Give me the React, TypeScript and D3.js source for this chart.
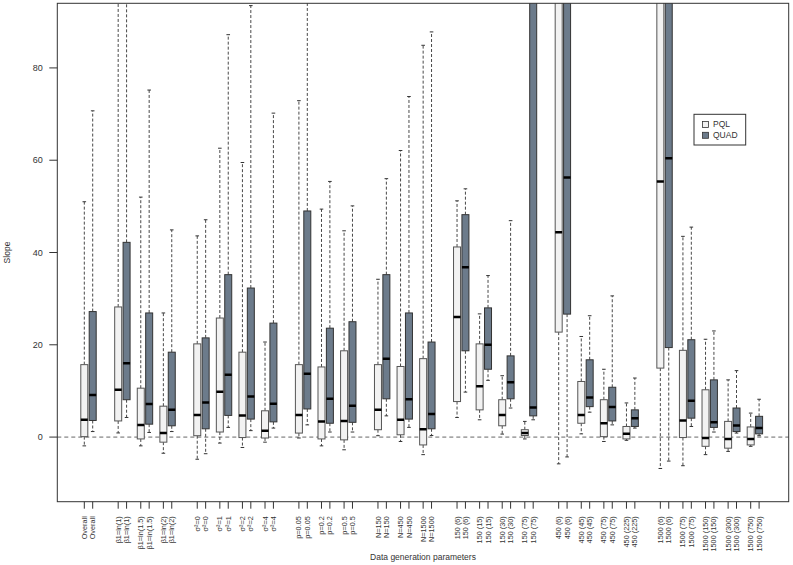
import React from 'react';
import * as d3 from 'd3';

const categories = [
  'Overall',
  'β1=ln(1)', 'β1=ln(1.5)', 'β1=ln(2)',
  'σ²=0', 'σ²=1', 'σ²=2', 'σ²=4',
  'p=0.05', 'p=0.2', 'p=0.5',
  'N=150', 'N=450', 'N=1500',
  '150 (6)', '150 (15)', '150 (30)', '150 (75)',
  '450 (6)', '450 (45)', '450 (75)', '450 (225)',
  '1500 (6)', '1500 (75)', '1500 (150)', '1500 (300)', '1500 (750)',
];
const sectionOf = [0, 1, 1, 1, 2, 2, 2, 2, 3, 3, 3, 4, 4, 4, 5, 5, 5, 5, 6, 6, 6, 6, 7, 7, 7, 7, 7];

// [lower whisker, Q1, median, Q3, upper whisker]
const pqlStats: number[][] = [
  [-1.9, 0.1, 3.75, 15.7, 51.0],
  [0.9, 3.5, 10.25, 28.2, 130],
  [-1.9, -0.4, 2.6, 10.6, 52.0],
  [-3.5, -1.1, 0.87, 6.7, 26.9],
  [-4.8, 0.3, 4.8, 20.2, 43.6],
  [-1.3, 1.1, 9.8, 25.8, 62.6],
  [-2.25, -0.1, 4.7, 18.4, 59.5],
  [-1.1, -0.2, 1.4, 5.7, 20.6],
  [-0.2, 0.87, 4.8, 15.7, 72.9],
  [-1.9, -0.4, 3.4, 15.2, 49.4],
  [-2.75, -0.6, 3.5, 18.7, 44.7],
  [0.3, 1.6, 5.9, 15.7, 34.2],
  [-0.95, 0.5, 3.75, 15.3, 62.1],
  [-3.8, -1.7, 1.7, 17.0, 84.9],
  [4.25, 7.7, 26.0, 41.2, 51.2],
  [3.75, 5.9, 11.0, 20.2, 26.7],
  [0.65, 2.45, 4.8, 8.1, 13.3],
  [-0.4, 0.35, 0.87, 1.6, 3.4],
  [-5.8, 22.75, 44.4, 140, 250],
  [0.7, 3.0, 4.8, 12.05, 21.8],
  [-0.95, 0.1, 3.0, 8.1, 14.7],
  [-0.7, -0.4, 0.7, 2.3, 7.4],
  [-6.8, 14.95, 55.4, 140, 250],
  [-6.2, -0.1, 3.6, 18.8, 43.5],
  [-3.8, -2.0, -0.2, 10.25, 21.2],
  [-3.1, -2.4, -0.4, 3.4, 12.4],
  [-2.0, -1.7, -0.4, 2.2, 5.2],
];

const quadStats: number[][] = [
  [1.2, 3.6, 9.1, 27.2, 70.7],
  [4.25, 8.1, 16.0, 42.2, 140],
  [1.0, 2.8, 7.15, 26.9, 75.2],
  [1.2, 2.45, 5.9, 18.4, 44.9],
  [-3.6, 1.8, 7.5, 21.5, 47.1],
  [2.1, 4.7, 13.5, 35.2, 87.2],
  [1.4, 3.9, 8.8, 32.3, 93.5],
  [1.95, 3.3, 7.2, 24.7, 70.2],
  [2.65, 6.1, 13.7, 49.0, 130],
  [1.1, 3.0, 8.3, 23.6, 55.4],
  [1.1, 3.2, 6.8, 25.0, 50.1],
  [4.6, 8.3, 17.0, 35.2, 56.0],
  [2.1, 3.9, 8.2, 26.9, 73.8],
  [0.35, 1.8, 5.0, 20.6, 87.8],
  [9.75, 18.7, 36.8, 48.2, 53.8],
  [12.3, 14.7, 20.0, 28.0, 35.0],
  [6.3, 8.3, 11.9, 17.6, 46.9],
  [3.75, 4.6, 6.4, 140, 250],
  [-4.3, 26.65, 56.25, 150, 260],
  [5.4, 6.6, 8.6, 16.75, 26.3],
  [2.65, 3.5, 6.5, 10.8, 30.6],
  [1.95, 2.3, 4.1, 5.9, 12.8],
  [-5.2, 19.4, 60.45, 150, 260],
  [2.3, 4.1, 7.9, 21.1, 45.5],
  [1.1, 2.1, 3.2, 12.4, 23.0],
  [0.87, 1.2, 2.5, 6.3, 14.4],
  [0.3, 0.7, 1.95, 4.5, 8.2],
];

const yTicks = [0, 20, 40, 60, 80];
const seriesNames = ['PQL', 'QUAD'];
const seriesFill = ['#f2f2f2', '#6c7b8b'];
const seriesStroke = ['#555555', '#333333'];

const W = 793;
const H = 565;
const plotL = 57.3;
const plotR = 788.7;
const plotT = 3.3;
const plotB = 501.7;
const FONT = '"Liberation Sans", Arial, Helvetica, sans-serif';

export default function App() {
  const y = d3.scaleLinear().domain([-14, 94]).range([plotB, plotT]);
  const slots = categories.map((_, i) => i * 3 + sectionOf[i] * 1.5);
  const x = d3.scaleLinear().domain([0, d3.max(slots) as number]).range([84.3, 750.7]);
  const pairOffset = 1.115;
  const boxW = 7;
  const capW = 3.6;

  const boxes: { cx: number; s: number[]; k: number; key: string }[] = [];
  categories.forEach((c, i) => {
    [pqlStats[i], quadStats[i]].forEach((s, k) => {
      boxes.push({ cx: x(slots[i] + k * pairOffset), s, k, key: `${c}-${k}` });
    });
  });

  return (
    <svg width={W} height={H} style={{ position: 'absolute', left: 0, top: 0, background: '#fff' }} fontFamily={FONT}>
      <defs>
        <clipPath id="plotclip">
          <rect x={plotL} y={plotT} width={plotR - plotL} height={plotB - plotT} />
        </clipPath>
      </defs>
      <rect x={0} y={0} width={W} height={H} fill="#fff" />
      {/* zero reference line */}
      <line x1={plotL} x2={plotR} y1={y(0)} y2={y(0)} stroke="#666" strokeWidth={1} strokeDasharray="4,3" />
      <g clipPath="url(#plotclip)">
        {boxes.map((b) => {
          const [lo, q1, med, q3, hi] = b.s;
          const x0 = b.cx - boxW / 2;
          return (
            <g key={b.key}>
              <line x1={b.cx} x2={b.cx} y1={y(q3)} y2={y(hi)} stroke="#333" strokeWidth={0.9} strokeDasharray="3,2" />
              <line x1={b.cx} x2={b.cx} y1={y(q1)} y2={y(lo)} stroke="#333" strokeWidth={0.9} strokeDasharray="3,2" />
              <line x1={b.cx - capW / 2} x2={b.cx + capW / 2} y1={y(hi)} y2={y(hi)} stroke="#333" strokeWidth={1} />
              <line x1={b.cx - capW / 2} x2={b.cx + capW / 2} y1={y(lo)} y2={y(lo)} stroke="#333" strokeWidth={1} />
              <rect x={x0} y={y(q3)} width={boxW} height={y(q1) - y(q3)} fill={seriesFill[b.k]} stroke={seriesStroke[b.k]} strokeWidth={1} />
              <line x1={x0} x2={x0 + boxW} y1={y(med)} y2={y(med)} stroke="#000" strokeWidth={2.5} />
            </g>
          );
        })}
      </g>
      {/* frame */}
      <rect x={plotL} y={plotT} width={plotR - plotL} height={plotB - plotT} fill="none" stroke="#333" strokeWidth={1} />
      {/* y axis */}
      {yTicks.map((t) => (
        <g key={t}>
          <line x1={plotL - 8} x2={plotL} y1={y(t)} y2={y(t)} stroke="#333" strokeWidth={1} />
          <text x={plotL - 14.5} y={y(t)} dy="0.35em" textAnchor="end" fontSize={9} fill="#333">{t}</text>
        </g>
      ))}
      <text transform={`translate(7.5,${(plotT + plotB) / 2}) rotate(-90)`} textAnchor="middle" dy="0.35em" fontSize={8.5} fill="#333">Slope</text>
      {/* x axis */}
      {boxes.map((b, j) => (
        <g key={`t-${b.key}`}>
          <line x1={b.cx} x2={b.cx} y1={plotB} y2={plotB + 7} stroke="#333" strokeWidth={1} />
          <text transform={`translate(${b.cx},${plotB + 14.5}) rotate(-90)`} textAnchor="end" dy="0.35em" fontSize={7.3} fill="#333">{categories[Math.floor(j / 2)]}</text>
        </g>
      ))}
      <text x={(plotL + plotR) / 2} y={557} dy="0.35em" textAnchor="middle" fontSize={8.5} fill="#333">Data generation parameters</text>
      {/* legend */}
      <g>
        <rect x={694} y={114.3} width={51.7} height={30.7} fill="#fff" stroke="#333" strokeWidth={1} />
        {seriesNames.map((n, k) => (
          <g key={n}>
            <rect x={702.5} y={121.5 + k * 10.8} width={6} height={6} fill={seriesFill[k]} stroke="#333" strokeWidth={0.8} />
            <text x={713} y={124.5 + k * 10.8} dy="0.35em" fontSize={8.5} fill="#333">{n}</text>
          </g>
        ))}
      </g>
    </svg>
  );
}
